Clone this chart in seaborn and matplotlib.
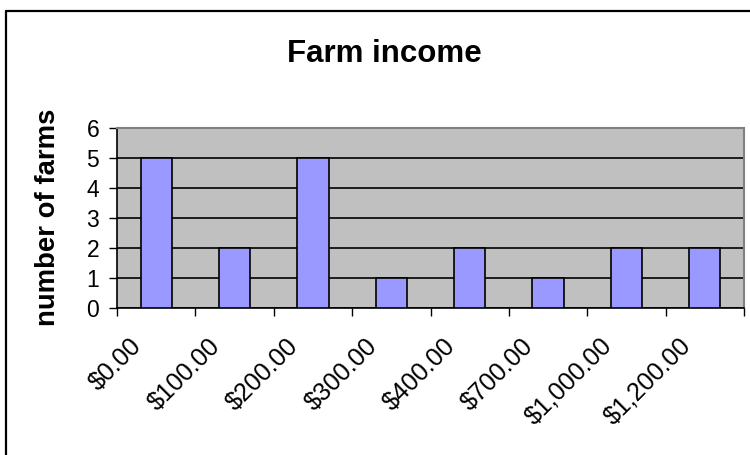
import matplotlib
matplotlib.use("Agg")
import matplotlib.pyplot as plt
import matplotlib.transforms as mtransforms
from matplotlib.lines import Line2D
import seaborn as sns
import pandas as pd

# Income brackets and how many farms fall in each
income_labels = ["$0.00", "$100.00", "$200.00", "$300.00",
                 "$400.00", "$700.00", "$1,000.00", "$1,200.00"]
farm_counts = [5, 2, 5, 1, 2, 1, 2, 2]
y_ticks = [0, 1, 2, 3, 4, 5, 6]

sns.set_theme(style="white")
plt.rcParams["font.family"] = ["Liberation Sans", "DejaVu Sans"]
plt.rcParams["text.color"] = "black"
plt.rcParams["xtick.color"] = "black"
plt.rcParams["ytick.color"] = "black"

df = pd.DataFrame({"income": income_labels, "farms": farm_counts})

W, H = 750, 455
fig = plt.figure(figsize=(W / 100, H / 100), dpi=100)
fig.patch.set_facecolor("white")

left, right, top, bottom = 117, 744, 128, 308
ax = fig.add_axes([left / W, 1 - bottom / H, (right - left) / W, (bottom - top) / H])
ax.set_facecolor("#C0C0C0")

sns.barplot(data=df, x="income", y="farms", ax=ax, width=0.4,
            color="#9999FF", saturation=1, edgecolor="black", linewidth=1.2,
            zorder=3)

n = len(income_labels)
ax.set_xlim(-0.5, n - 0.5)
ax.set_ylim(0, 6)
ax.set_yticks(y_ticks)
ax.set_yticklabels([str(t) for t in y_ticks])
ax.yaxis.grid(True, color="black", linewidth=1.2, zorder=1)
ax.xaxis.grid(False)
ax.set_axisbelow(True)

# tick marks sit on category boundaries, labels hang from them
bounds = [i - 0.5 for i in range(n + 1)]
ax.set_xticks(bounds)
ax.set_xticklabels(income_labels + [""], rotation=45,
                   ha="right", va="center", rotation_mode="anchor")
ax.tick_params(axis="x", direction="out", length=5.8, width=1, color="black",
               pad=0, bottom=True, labelsize=18, labelcolor="black")
ax.tick_params(axis="y", direction="out", length=5.8, width=1, color="black",
               pad=7, left=True, labelsize=16.5, labelcolor="black")
shift = mtransforms.ScaledTranslation(21 / 100, -26 / 100, fig.dpi_scale_trans)
for lbl in ax.get_xticklabels():
    lbl.set_transform(lbl.get_transform() + shift)

ax.set_xlabel("")
ax.set_ylabel("")
for side in ("left", "bottom"):
    ax.spines[side].set_color("black")
    ax.spines[side].set_linewidth(1.2)
for side in ("top", "right"):
    ax.spines[side].set_color("#808080")
    ax.spines[side].set_linewidth(1.5)
    ax.spines[side].set_visible(True)

fig.text(384 / W, 1 - 54 / H, "Farm income", ha="center", va="center",
         fontsize=22.5, fontweight="bold", color="black")
fig.text(48 / W, 1 - 217 / H, "number of farms", ha="center", va="center",
         rotation=90, fontsize=19.8, fontweight="bold", color="black")

# chart frame along the left and top edges
fig.add_artist(Line2D([6 / W, 6 / W], [0, 1 - 11 / H], color="black",
                      linewidth=1.6, transform=fig.transFigure))
fig.add_artist(Line2D([6 / W, 1], [1 - 11 / H, 1 - 11 / H], color="black",
                      linewidth=1.6, transform=fig.transFigure))

fig.savefig("out.png", dpi=100)
